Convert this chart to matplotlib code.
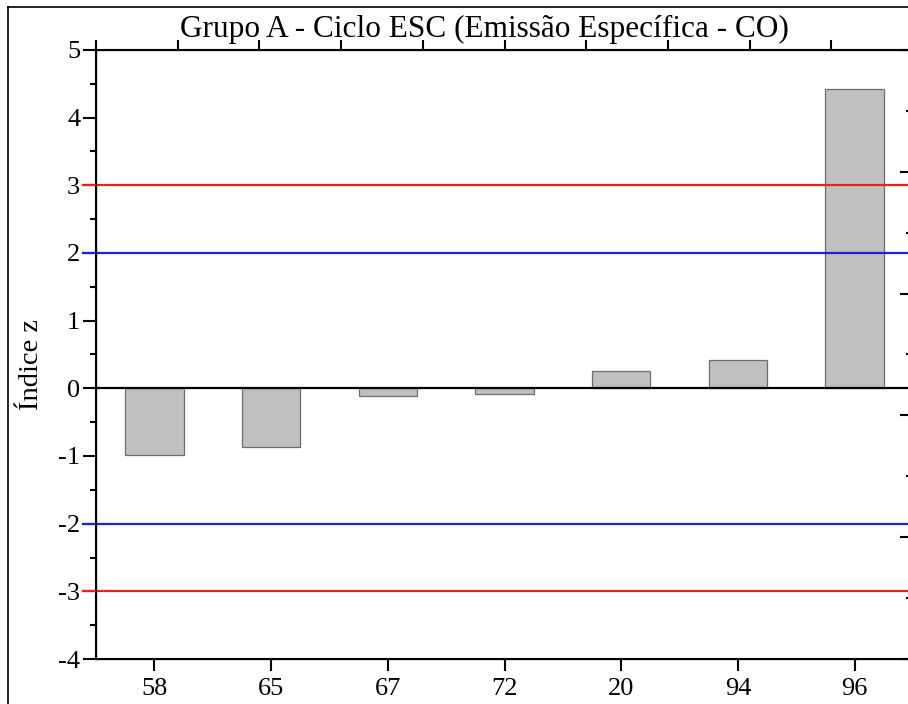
import numpy as np
import matplotlib
matplotlib.use("Agg")
import matplotlib.pyplot as plt
from matplotlib.lines import Line2D
from matplotlib.ticker import MultipleLocator

plt.rcParams['font.family'] = ['Liberation Serif', 'DejaVu Serif']
plt.rcParams['axes.unicode_minus'] = False

# Data
labs = ['58', '65', '67', '72', '20', '94', '96']
zvals = [-0.98, -0.87, -0.12, -0.08, 0.25, 0.42, 4.43]
lim_vals = [3, 2, -2, -3]
lim_cols = ['#e8201e', '#2020d4', '#2020d4', '#e8201e']

W, H = 908, 704
fig = plt.figure(figsize=(W / 100, H / 100), dpi=100)

x0, x1 = 96, 913
y0, y1 = 659, 50
ax = fig.add_axes([x0 / W, 1 - y0 / H, (x1 - x0) / W, (y0 - y1) / H])

xpos = np.arange(len(labs))
ax.bar(xpos, zvals, width=0.5, color='#c0c0c0', edgecolor='#6e6e6e',
       linewidth=0.9, zorder=2)

for v, c in zip(lim_vals, lim_cols):
    ax.axhline(v, xmin=-0.016, xmax=1, color=c, lw=1.6, clip_on=False, zorder=3)
ax.axhline(0, color='black', lw=1.6, zorder=4)

ax.set_xlim(-0.5, 6.5)
ax.set_ylim(-4, 5)
ax.set_xticks(xpos)
ax.set_xticklabels(labs)
ax.set_yticks(range(-4, 6))
ax.yaxis.set_minor_locator(MultipleLocator(0.5))

ax.tick_params(axis='both', which='major', direction='out', width=1.5,
               labelsize=19, pad=2)
ax.tick_params(axis='y', which='major', length=9.4)
ax.tick_params(axis='y', which='minor', direction='out', length=4.5, width=1.5)
ax.tick_params(axis='x', which='major', length=8.6, pad=5)
for s in ax.spines.values():
    s.set_linewidth(1.5)

# top and right axes as in the source plot
axt = ax.twiny()
axt.set_xlim(0, 10)
axt.set_xticks(range(11))
axt.tick_params(axis='x', direction='out', length=7, width=1.5, labeltop=False)
axr = ax.twinx()
axr.set_ylim(0, 5)
axr.set_yticks(range(6))
axr.yaxis.set_minor_locator(MultipleLocator(0.5))
axr.tick_params(axis='y', which='major', direction='in', length=9.4, width=1.5,
                labelright=False)
axr.tick_params(axis='y', which='minor', direction='in', length=5, width=1.5)

fig.text(484 / W, 1 - 37 / H, 'Grupo A - Ciclo ESC (Emissão Específica - CO)',
         fontsize=22.5, ha='center', va='baseline')
fig.text(31 / W, 1 - 364 / H, 'Índice z', fontsize=20.5, rotation=90,
         ha='center', va='center')

# outer frame of the cropped page
fig.add_artist(Line2D([8 / W, 8 / W], [0, 1 - 7 / H], color='black', lw=1.2))
fig.add_artist(Line2D([8 / W, 1], [1 - 7 / H, 1 - 7 / H], color='black', lw=1.2))

fig.savefig('out.png', dpi=100)
